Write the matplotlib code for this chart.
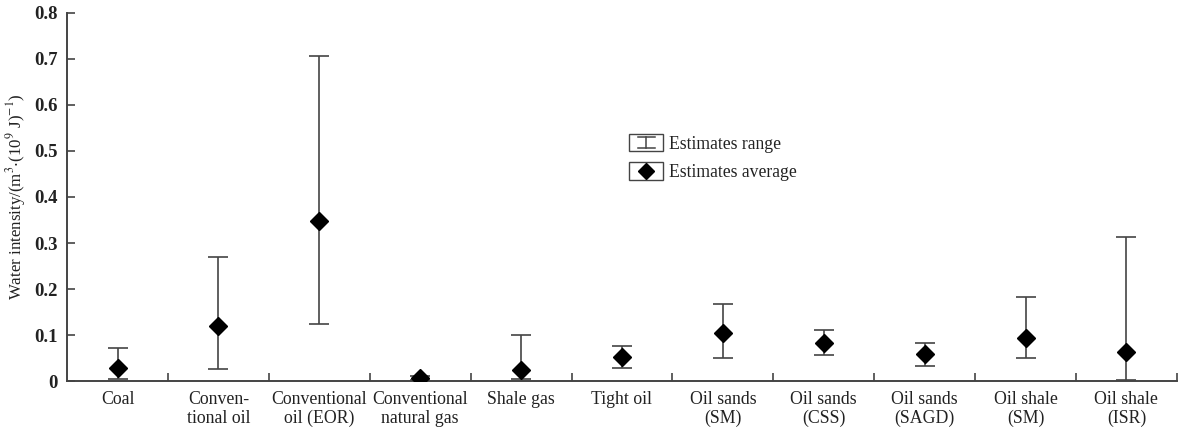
import matplotlib
matplotlib.use('Agg')
import matplotlib.pyplot as plt
import numpy as np
from matplotlib.legend_handler import HandlerBase
from matplotlib.patches import Rectangle
from matplotlib.lines import Line2D

# data
categories = ['Coal', 'Conven-\ntional oil', 'Conventional\noil (EOR)', 'Conventional\nnatural gas',
              'Shale gas', 'Tight oil', 'Oil sands\n(SM)', 'Oil sands\n(CSS)', 'Oil sands\n(SAGD)',
              'Oil shale\n(SM)', 'Oil shale\n(ISR)']
est_low = [0.004, 0.026, 0.124, 0.003, 0.004, 0.028, 0.050, 0.057, 0.032, 0.050, 0.002]
est_high = [0.072, 0.270, 0.707, 0.010, 0.099, 0.077, 0.168, 0.111, 0.083, 0.183, 0.312]
est_mean = [0.028, 0.120, 0.347, 0.007, 0.025, 0.052, 0.104, 0.082, 0.058, 0.093, 0.064]

plt.rcParams['font.family'] = ['Liberation Serif', 'DejaVu Serif']
plt.rcParams['mathtext.fontset'] = 'stix'

line_col = '#444444'
text_col = '#222222'


class BoxedHandler(HandlerBase):
    # legend handle drawn inside its own little box
    def __init__(self, kind):
        super().__init__()
        self.kind = kind

    def create_artists(self, legend, orig_handle, xdescent, ydescent, width, height, fontsize, trans):
        x0, y0 = -xdescent, -ydescent
        cx, cy = x0 + width / 2, y0 + height / 2
        arts = [Rectangle((x0, y0), width, height, fill=False, ec=line_col, lw=1.0, transform=trans)]
        if self.kind == 'range':
            h = height * 0.3
            w = width * 0.25
            arts.append(Line2D([cx, cx], [cy - h, cy + h], color=line_col, lw=1.1, transform=trans))
            arts.append(Line2D([cx - w, cx + w], [cy + h, cy + h], color=line_col, lw=1.1, transform=trans))
            arts.append(Line2D([cx - w, cx + w], [cy - h, cy - h], color=line_col, lw=1.1, transform=trans))
        else:
            arts.append(Line2D([cx], [cy], marker='D', ms=8, color='black', ls='none', transform=trans))
        return arts


fig = plt.figure(figsize=(11.78, 4.32), dpi=100)
ax = fig.add_axes([0.057, 0.118, 0.942, 0.852])

x = np.arange(len(categories))
mean = np.array(est_mean)
yerr = [mean - np.array(est_low), np.array(est_high) - mean]

eb = ax.errorbar(x, mean, yerr=yerr, fmt='none', ecolor=line_col, elinewidth=1.2,
                 capsize=7, capthick=1.2)
pts, = ax.plot(x, mean, ls='none', marker='D', ms=9, color='black', zorder=3)

ax.set_xlim(-0.5, len(categories) - 0.5)
ax.set_ylim(0, 0.8)
ax.set_xticks(x)
ax.set_xticklabels(categories, fontsize=12.8, color=text_col, linespacing=1.15)
ax.set_xticks(np.arange(0.5, len(categories)), minor=True)
ax.tick_params(axis='x', which='major', length=0, pad=7)
ax.tick_params(axis='x', which='minor', direction='in', length=6, width=1.2, color=line_col)

yt = np.arange(0, 0.81, 0.1)
ax.set_yticks(yt)
ax.set_yticklabels(['0'] + ['%.1f' % v for v in yt[1:]], fontsize=13.5, fontweight='bold', color=text_col)
ax.tick_params(axis='y', direction='in', length=6, width=1.2, color=line_col, pad=7)

for s in ['top', 'right']:
    ax.spines[s].set_visible(False)
for s in ['left', 'bottom']:
    ax.spines[s].set_color(line_col)
    ax.spines[s].set_linewidth(1.4)

ax.set_ylabel(r'Water intensity/(m$^{3}$$\cdot$(10$^{9}$ J)$^{-1}$)', fontsize=12.2, color=text_col, labelpad=4)

ax.legend([eb, pts], ['Estimates range', 'Estimates average'],
          handler_map={eb: BoxedHandler('range'), pts: BoxedHandler('avg')},
          loc='upper left', bbox_to_anchor=(0.534, 0.69), bbox_transform=fig.transFigure,
          frameon=False, borderpad=0, borderaxespad=0, fontsize=12.7,
          handlelength=1.95, handleheight=1.15, handletextpad=0.3, labelspacing=0.55,
          labelcolor=text_col)

fig.savefig('out.png', dpi=100)
